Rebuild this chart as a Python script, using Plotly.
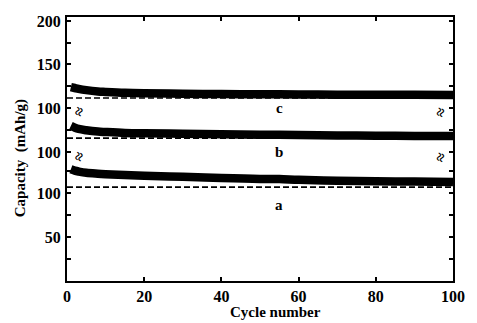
import plotly.graph_objects as go

# ---- data ----
cycles_c = [1, 2, 3, 5, 8, 10, 15, 20, 30, 40, 50, 60, 70, 80, 90, 100]
cap_c = [124, 123, 122, 120.5, 119, 118.5, 117.5, 117, 116.5, 116, 115.8, 115.5, 115.3, 115.2, 115.1, 115]

cycles_b = [1, 2, 3, 5, 8, 10, 15, 20, 30, 40, 50, 60, 70, 80, 90, 100]
cap_b = [130, 128, 126.5, 125, 123.5, 123, 122, 121.5, 121, 120.5, 120, 119.5, 119, 118.8, 118.5, 118.4]

cycles_a = [1, 2, 3, 5, 8, 10, 15, 20, 30, 40, 50, 55, 60, 70, 80, 90, 100]
cap_a = [127, 125.5, 124.5, 123, 122, 121.5, 120.5, 119.8, 118.5, 117, 116, 116, 115, 114, 113.5, 113, 112.5]

ref_cycles = [0, 100]
ref_c = [111.5, 111.5]
ref_b = [116, 116]
ref_a = [106.8, 106.8]

labels = ["a", "b", "c"]
label_cycle = [55, 55, 55]
label_value = [86, 100, 100]

x_ticks = [0, 20, 40, 60, 80, 100]
ya_ticks = [25, 50, 75, 100, 125]
ya_text = ["", "50", "", "100", ""]
yb_ticks = [100, 125]
yb_text = ["100", ""]
yc_ticks = [100, 125, 150, 175, 200]
yc_text = ["100", "", "150", "", "200"]

FONT = "Liberation Serif"
tickfont = dict(family=FONT, size=16, color="black", weight="bold")

fig = go.Figure()

panels = [("y", cycles_a, cap_a, ref_a), ("y2", cycles_b, cap_b, ref_b), ("y3", cycles_c, cap_c, ref_c)]
for yax, cx, cy, ref in panels:
    fig.add_trace(go.Scatter(x=ref_cycles, y=ref, xaxis="x", yaxis=yax, mode="lines",
                             line=dict(color="black", width=1.6, dash="6px,3px"), showlegend=False))
    fig.add_trace(go.Scatter(x=cx, y=cy, xaxis="x", yaxis=yax, mode="lines",
                             line=dict(color="black", width=8.5, shape="spline"), showlegend=False))

for lab, lx, ly, yax in zip(labels, label_cycle, label_value, ["y", "y2", "y3"]):
    fig.add_annotation(x=lx, y=ly, xref="x", yref=yax, text=lab, showarrow=False,
                       font=dict(family=FONT, size=15, color="black", weight="bold"))

dom_a = [0, 0.4697]
dom_b = [0.4697, 0.6402]
dom_c = [0.6402, 1]

common_y = dict(showline=True, linecolor="black", linewidth=2, mirror="ticks", ticks="inside",
                ticklen=4, tickwidth=1.5, tickcolor="black", showgrid=False, zeroline=False,
                tickfont=tickfont, ticklabelstandoff=1)

fig.update_layout(
    width=477, height=323,
    margin=dict(l=67, r=14, t=17, b=42),
    paper_bgcolor="white", plot_bgcolor="white",
    xaxis=dict(range=[0, 100], tickvals=x_ticks, anchor="y", showline=True, linecolor="black",
               linewidth=2, ticks="inside", ticklen=4, tickwidth=1.5, tickcolor="black",
               showgrid=False, zeroline=False, tickfont=tickfont, ticklabelstandoff=0),
    xaxis2=dict(range=[0, 100], tickvals=x_ticks, anchor="y3", side="top", overlaying="x",
                showline=True, linecolor="black", linewidth=2, ticks="inside", ticklen=4,
                tickwidth=1.5, tickcolor="black", showticklabels=False, showgrid=False, zeroline=False),
    yaxis=dict(domain=dom_a, range=[0, 141], tickvals=ya_ticks, ticktext=ya_text, **common_y),
    yaxis2=dict(domain=dom_b, range=[94.3, 146], tickvals=yb_ticks, ticktext=yb_text, anchor="x", **common_y),
    yaxis3=dict(domain=dom_c, range=[95.4, 204.6], tickvals=yc_ticks, ticktext=yc_text, anchor="x", **common_y),
)

# invisible trace so the top (mirror) axis renders
fig.add_trace(go.Scatter(x=[0], y=[150], xaxis="x2", yaxis="y3", mode="markers",
                         marker=dict(opacity=0), showlegend=False, hoverinfo="skip"))

# axis break marks
for yb in [dom_a[1], dom_b[1]]:
    for xb in [0, 1]:
        fig.add_annotation(x=xb, y=yb, xref="paper", yref="paper", text="≈", showarrow=False,
                           textangle=-70, font=dict(family=FONT, size=16, color="black", weight="bold"))

fig.add_annotation(x=0.54, y=0, xref="paper", yref="paper", yanchor="middle", yshift=-31,
                   text="Cycle number", showarrow=False,
                   font=dict(family=FONT, size=15, color="black", weight="bold"))
fig.add_annotation(x=0, y=0.465, xref="paper", yref="paper", xanchor="center", xshift=-47,
                   text="Capacity  (mAh/g)", textangle=-90, showarrow=False,
                   font=dict(family=FONT, size=15, color="black", weight="bold"))

fig.write_html("out.html")
